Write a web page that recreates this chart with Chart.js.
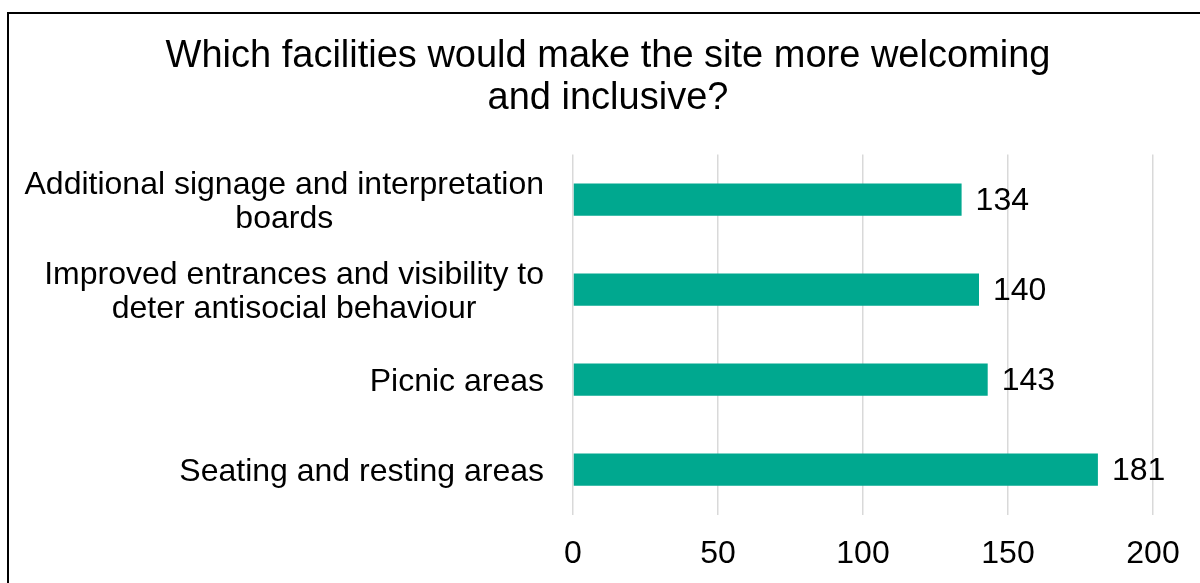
<!DOCTYPE html>
<html>
<head>
<meta charset="utf-8">
<script src="https://cdn.jsdelivr.net/npm/chart.js"></script>
<style>
    html, body { margin: 0; padding: 0; background: #fff; overflow: hidden; }
    #frame {
        position: absolute;
        left: 7px;
        top: 12px;
        width: 1198px;
        height: 600px;
        border: 2px solid #000;
    }
</style>
</head>
<body>
<div id="frame">
    <canvas id="myChart" width="1198" height="600"></canvas>
</div>
<script>
// Chart data
let categories = [
    ['Additional signage and interpretation', 'boards'],
    ['Improved entrances and visibility to', 'deter antisocial behaviour'],
    ['Picnic areas'],
    ['Seating and resting areas']
];
let responses = [134, 140, 143, 181];
let xTicks = [0, 50, 100, 150, 200];

let fontName = "'Liberation Sans', Arial, sans-serif";

// Draw the value next to the end of each bar
let valueLabels = {
    id: 'valueLabels',
    afterDatasetsDraw(chart) {
        let c = chart.ctx;
        let bars = chart.getDatasetMeta(0).data;
        c.save();
        c.font = '32px ' + fontName;
        c.fillStyle = '#000';
        c.textAlign = 'left';
        c.textBaseline = 'middle';
        bars.forEach((bar, i) => {
            c.fillText(String(responses[i]), bar.x + 14, bar.y + 2);
        });
        c.restore();
    }
};

// Category labels: block right aligned, each line centred inside the block
let categoryLabels = {
    id: 'categoryLabels',
    afterDraw(chart) {
        let c = chart.ctx;
        let yScale = chart.scales.y;
        let rightEdge = chart.chartArea.left - 29;
        let lineH = 34;
        c.save();
        c.font = '32px ' + fontName;
        c.fillStyle = '#000';
        c.textAlign = 'center';
        c.textBaseline = 'middle';
        categories.forEach((lines, i) => {
            let y = yScale.getPixelForTick(i) + 3;
            let widest = Math.max(...lines.map(l => c.measureText(l).width));
            let cx = rightEdge - widest / 2;
            let startY = y - (lines.length - 1) * lineH / 2;
            lines.forEach((line, j) => {
                c.fillText(line, cx, startY + j * lineH);
            });
        });
        c.restore();
    }
};

ctx = document.getElementById('myChart').getContext('2d');
myChart = new Chart(ctx, {
    type: 'bar',
    data: {
        labels: categories,
        datasets: [{
            data: responses,
            backgroundColor: '#00A88F',
            borderWidth: 0,
            categoryPercentage: 1,
            barPercentage: 0.36
        }]
    },
    plugins: [valueLabels, categoryLabels],
    options: {
        indexAxis: 'y',
        responsive: false,
        animation: false,
        layout: {
            padding: { left: 54, right: 54, top: 0, bottom: 21 }
        },
        plugins: {
            legend: { display: false },
            tooltip: { enabled: false },
            title: {
                display: true,
                text: ['Which facilities would make the site more welcoming', 'and inclusive?'],
                color: '#000',
                font: { family: fontName, size: 38, weight: 'normal', lineHeight: 1.1 },
                padding: { top: 22, bottom: 35 }
            }
        },
        scales: {
            x: {
                min: xTicks[0],
                max: xTicks[xTicks.length - 1],
                afterBuildTicks(scale) {
                    scale.ticks = xTicks.map(v => ({ value: v }));
                },
                ticks: {
                    color: '#000',
                    font: { family: fontName, size: 32 },
                    padding: 20
                },
                grid: {
                    color: '#d9d9d9',
                    lineWidth: 1.5,
                    drawTicks: false
                },
                border: { display: false }
            },
            y: {
                ticks: { display: false },
                grid: { display: false },
                border: { display: false },
                afterFit(scale) {
                    scale.width = 510;
                }
            }
        }
    }
});
</script>
</body>
</html>
